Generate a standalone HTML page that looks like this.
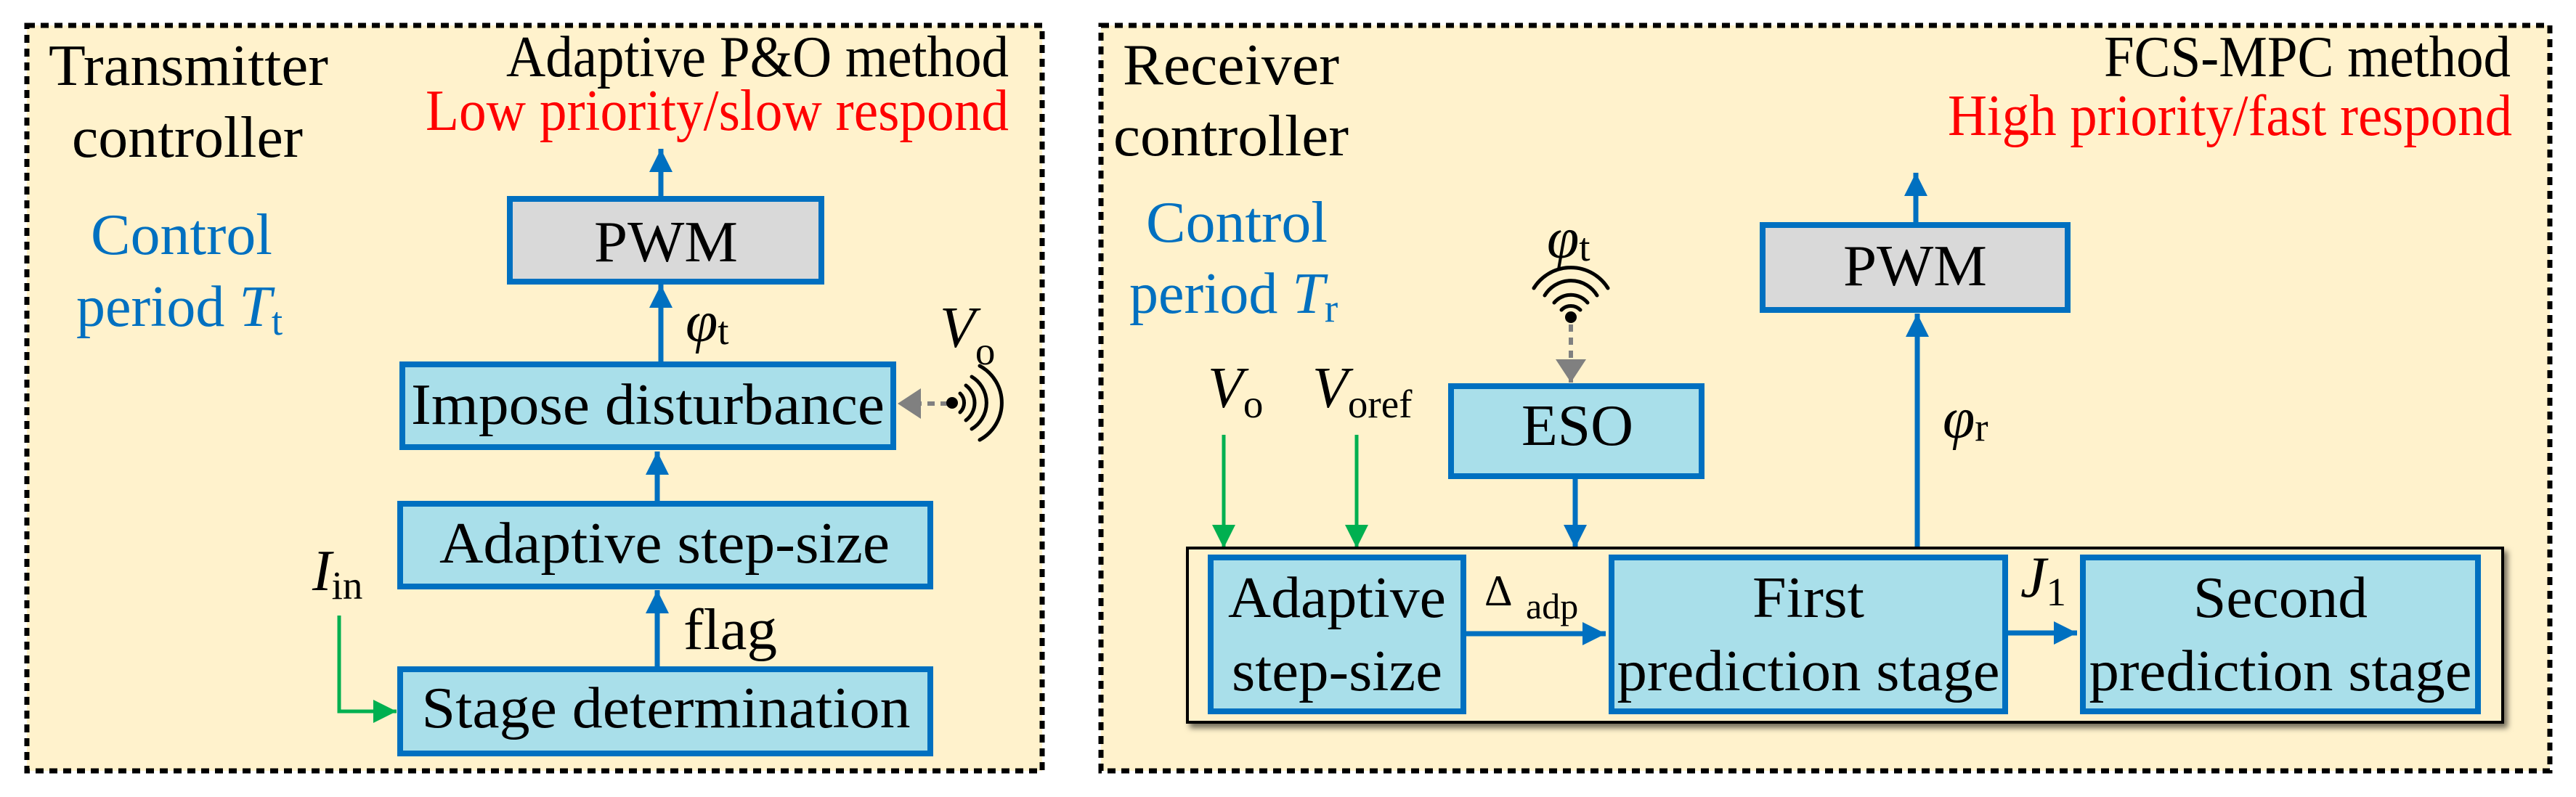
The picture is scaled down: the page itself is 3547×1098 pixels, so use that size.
<!DOCTYPE html>
<html><head><meta charset="utf-8"><style>
html,body{margin:0;padding:0;background:#fff}
svg{display:block;font-family:"Liberation Serif","DejaVu Serif",serif}
svg text{font-family:"Liberation Serif","DejaVu Serif",serif !important}
</style></head><body>
<svg width="3547" height="1098" viewBox="0 0 3547 1098" xmlns="http://www.w3.org/2000/svg" font-family="'Liberation Serif', 'DejaVu Serif', serif">
<defs>
<marker id="ab" markerUnits="userSpaceOnUse" markerWidth="40" markerHeight="40" refX="32" refY="16" orient="auto"><path d="M0,0 L32,16 L0,32 Z" fill="#0070c0"/></marker>
<marker id="ag" markerUnits="userSpaceOnUse" markerWidth="40" markerHeight="40" refX="32" refY="16" orient="auto"><path d="M0,0 L32,16 L0,32 Z" fill="#00b050"/></marker>
<marker id="ay" markerUnits="userSpaceOnUse" markerWidth="40" markerHeight="48" refX="32" refY="21" orient="auto"><path d="M0,0 L32,21 L0,42 Z" fill="#808080"/></marker>
<filter id="sh" x="-5%" y="-10%" width="110%" height="130%"><feDropShadow dx="5" dy="6" stdDeviation="4" flood-color="#000" flood-opacity="0.55"/></filter>
</defs>
<rect width="3547" height="1098" fill="#fff"/>
<!-- left panel -->
<rect x="37" y="35" width="1398" height="1027" fill="#fff2cc" stroke="#000" stroke-width="7" stroke-dasharray="11 8"/>
<text x="67" y="117" font-size="80" textLength="385" lengthAdjust="spacingAndGlyphs">Transmitter</text>
<text x="99" y="216" font-size="80" textLength="318" lengthAdjust="spacingAndGlyphs">controller</text>
<text x="125" y="350" font-size="80" fill="#0070c0" textLength="250" lengthAdjust="spacingAndGlyphs">Control</text>
<text x="105" y="449" font-size="80" fill="#0070c0">period <tspan font-style="italic">T</tspan><tspan font-size="55" dy="12">t</tspan></text>
<text x="1389" y="105" font-size="80" text-anchor="end" textLength="692" lengthAdjust="spacingAndGlyphs">Adaptive P&amp;O method</text>
<text x="1389" y="179" font-size="80" text-anchor="end" fill="#ff0000" textLength="803" lengthAdjust="spacingAndGlyphs">Low priority/slow respond</text>
<line x1="910" y1="270" x2="910" y2="205" stroke="#0070c0" stroke-width="7" marker-end="url(#ab)"/>
<rect x="702" y="274" width="429" height="114" fill="#d9d9d9" stroke="#0070c0" stroke-width="8"/>
<text x="917" y="360" font-size="80" text-anchor="middle" textLength="198" lengthAdjust="spacingAndGlyphs">PWM</text>
<line x1="910" y1="498" x2="910" y2="392" stroke="#0070c0" stroke-width="7" marker-end="url(#ab)"/>
<text x="944" y="470" font-size="80" font-style="italic">φ<tspan font-style="normal" font-size="55" dy="4">t</tspan></text>
<rect x="554" y="502" width="676" height="114" fill="#a9dfea" stroke="#0070c0" stroke-width="8"/>
<text x="892" y="584" font-size="80" text-anchor="middle" textLength="652" lengthAdjust="spacingAndGlyphs">Impose disturbance</text>
<line x1="1305" y1="556" x2="1236" y2="556" stroke="#808080" stroke-width="6" stroke-dasharray="10 8" marker-end="url(#ay)"/>
<circle cx="1311" cy="555" r="8" fill="#000"/>
<g fill="none" stroke="#000" stroke-width="5" stroke-linecap="round">
<path d="M1322,542 A18,18 0 0 1 1322,568"/>
<path d="M1330,531 A30,30 0 0 1 1330,579"/>
<path d="M1338,519 A42,42 0 0 1 1338,591"/>
<path d="M1349,504 A58,58 0 0 1 1349,606"/>
</g>
<text x="1294" y="478" font-size="80" font-style="italic">V<tspan font-style="normal" font-size="55" dy="24">o</tspan></text>
<line x1="905" y1="690" x2="905" y2="622" stroke="#0070c0" stroke-width="7" marker-end="url(#ab)"/>
<rect x="551" y="694" width="730" height="114" fill="#a9dfea" stroke="#0070c0" stroke-width="8"/>
<text x="915" y="775" font-size="80" text-anchor="middle" textLength="620" lengthAdjust="spacingAndGlyphs">Adaptive step-size</text>
<line x1="905" y1="918" x2="905" y2="813" stroke="#0070c0" stroke-width="7" marker-end="url(#ab)"/>
<text x="941" y="894" font-size="80" textLength="129" lengthAdjust="spacingAndGlyphs">flag</text>
<rect x="551" y="922" width="730" height="116" fill="#a9dfea" stroke="#0070c0" stroke-width="8"/>
<text x="917" y="1002" font-size="80" text-anchor="middle" textLength="673" lengthAdjust="spacingAndGlyphs">Stage determination</text>
<polyline points="467,848 467,980 546,980" fill="none" stroke="#00b050" stroke-width="5" marker-end="url(#ag)"/>
<text x="430" y="813" font-size="80" font-style="italic">I<tspan font-style="normal" font-size="55" dy="12">in</tspan></text>
<!-- right panel -->
<rect x="1516" y="35" width="1995" height="1027" fill="#fff2cc" stroke="#000" stroke-width="7" stroke-dasharray="11 8"/>
<text x="1546" y="116" font-size="80" textLength="298" lengthAdjust="spacingAndGlyphs">Receiver</text>
<text x="1533" y="214" font-size="80" textLength="324" lengthAdjust="spacingAndGlyphs">controller</text>
<text x="1578" y="333" font-size="80" fill="#0070c0" textLength="250" lengthAdjust="spacingAndGlyphs">Control</text>
<text x="1555" y="431" font-size="80" fill="#0070c0">period <tspan font-style="italic">T</tspan><tspan font-size="55" dy="12">r</tspan></text>
<text x="3457" y="105" font-size="80" text-anchor="end" textLength="560" lengthAdjust="spacingAndGlyphs">FCS-MPC method</text>
<text x="3459" y="186" font-size="80" text-anchor="end" fill="#ff0000" textLength="777" lengthAdjust="spacingAndGlyphs">High priority/fast respond</text>
<line x1="2638" y1="306" x2="2638" y2="238" stroke="#0070c0" stroke-width="7" marker-end="url(#ab)"/>
<rect x="2427" y="310" width="420" height="117" fill="#d9d9d9" stroke="#0070c0" stroke-width="8"/>
<text x="2637" y="393" font-size="80" text-anchor="middle" textLength="198" lengthAdjust="spacingAndGlyphs">PWM</text>
<line x1="2640" y1="755" x2="2640" y2="432" stroke="#0070c0" stroke-width="7" marker-end="url(#ab)"/>
<text x="2675" y="603" font-size="80" font-style="italic">φ<tspan font-style="normal" font-size="55" dy="4">r</tspan></text>
<text x="2130" y="355" font-size="80" font-style="italic">φ<tspan font-style="normal" font-size="55" dy="4">t</tspan></text>
<circle cx="2163" cy="437" r="8" fill="#000"/>
<g fill="none" stroke="#000" stroke-width="5" stroke-linecap="round">
<path d="M2150,427 A18,18 0 0 1 2176,427"/>
<path d="M2140,417 A30,30 0 0 1 2186,417"/>
<path d="M2127,407 A42,42 0 0 1 2199,407"/>
<path d="M2112,397 A60,60 0 0 1 2214,397"/>
</g>
<line x1="2163" y1="447" x2="2163" y2="527" stroke="#808080" stroke-width="6" stroke-dasharray="10 8" marker-end="url(#ay)"/>
<rect x="1998" y="532" width="345" height="124" fill="#a9dfea" stroke="#0070c0" stroke-width="8"/>
<text x="2172" y="613" font-size="80" text-anchor="middle" textLength="154" lengthAdjust="spacingAndGlyphs">ESO</text>
<line x1="2169" y1="660" x2="2169" y2="755" stroke="#0070c0" stroke-width="7" marker-end="url(#ab)"/>
<text x="1663" y="561" font-size="80" font-style="italic">V<tspan font-style="normal" font-size="55" dy="14">o</tspan></text>
<text x="1807" y="561" font-size="80" font-style="italic">V<tspan font-style="normal" font-size="55" dy="14">oref</tspan></text>
<line x1="1685" y1="599" x2="1685" y2="755" stroke="#00b050" stroke-width="5" marker-end="url(#ag)"/>
<line x1="1868" y1="599" x2="1868" y2="755" stroke="#00b050" stroke-width="5" marker-end="url(#ag)"/>
<rect x="1635" y="755" width="1811" height="240" fill="#fff2cc" stroke="#000" stroke-width="4" filter="url(#sh)"/>
<rect x="1667" y="768" width="348" height="212" fill="#a9dfea" stroke="#0070c0" stroke-width="8"/>
<text x="1841" y="850" font-size="80" text-anchor="middle" textLength="300" lengthAdjust="spacingAndGlyphs">Adaptive</text>
<text x="1841" y="951" font-size="80" text-anchor="middle" textLength="290" lengthAdjust="spacingAndGlyphs">step-size</text>
<line x1="2019" y1="873" x2="2211" y2="873" stroke="#0070c0" stroke-width="7" marker-end="url(#ab)"/>
<text x="2044" y="834" font-size="60">Δ</text>
<text x="2101" y="852" font-size="50">adp</text>
<rect x="2219" y="768" width="542" height="212" fill="#a9dfea" stroke="#0070c0" stroke-width="8"/>
<text x="2490" y="850" font-size="80" text-anchor="middle" textLength="154" lengthAdjust="spacingAndGlyphs">First</text>
<text x="2490" y="951" font-size="80" text-anchor="middle" textLength="527" lengthAdjust="spacingAndGlyphs">prediction stage</text>
<line x1="2765" y1="872" x2="2860" y2="872" stroke="#0070c0" stroke-width="7" marker-end="url(#ab)"/>
<text x="2782" y="822" font-size="80" font-style="italic">J<tspan font-style="normal" font-size="55" dy="12">1</tspan></text>
<rect x="2868" y="768" width="544" height="212" fill="#a9dfea" stroke="#0070c0" stroke-width="8"/>
<text x="3140" y="850" font-size="80" text-anchor="middle" textLength="240" lengthAdjust="spacingAndGlyphs">Second</text>
<text x="3140" y="951" font-size="80" text-anchor="middle" textLength="527" lengthAdjust="spacingAndGlyphs">prediction stage</text>
</svg>
</body></html>
